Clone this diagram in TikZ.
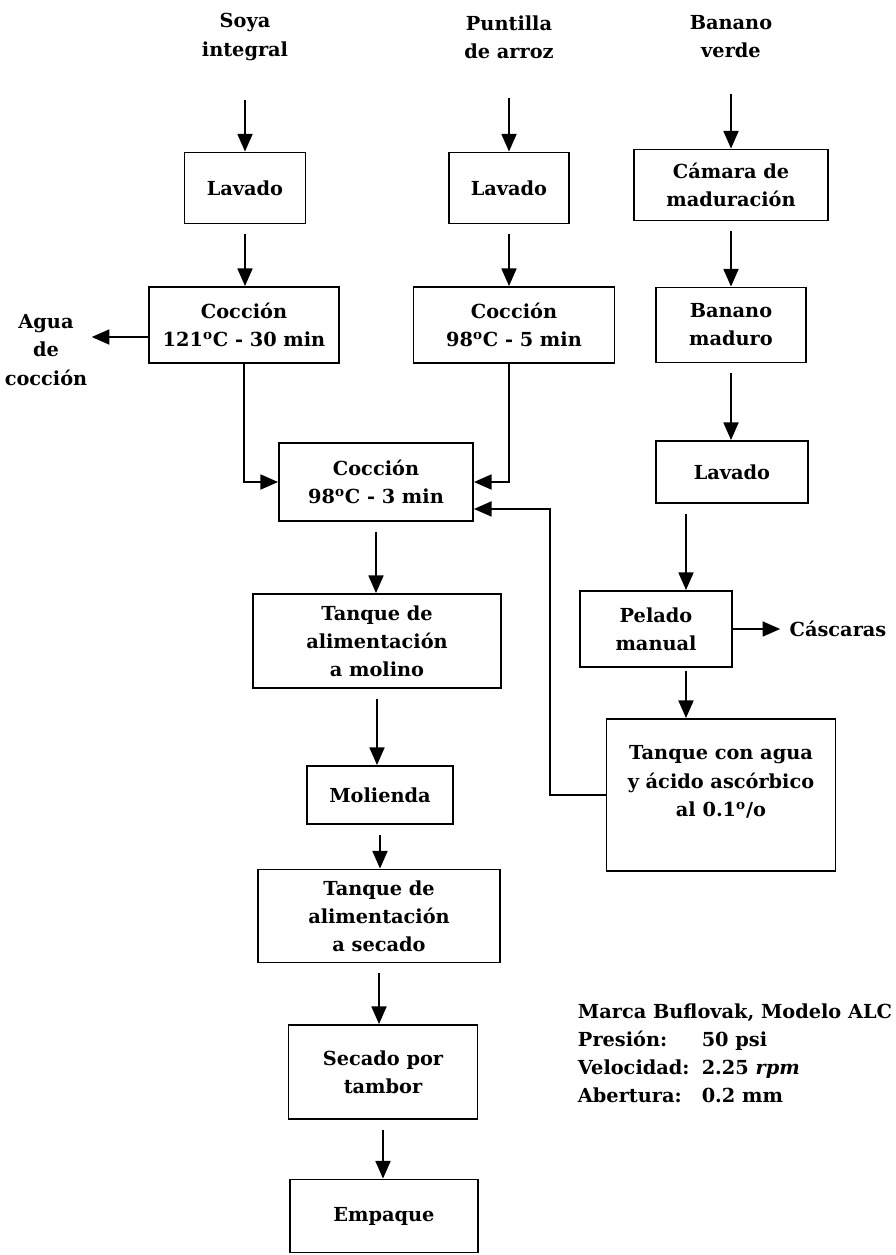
\documentclass[tikz,border=0pt]{standalone}
\usepackage{fontspec}
\setmainfont{DejaVu Serif}
\usepackage{tikz}
\usetikzlibrary{arrows.meta,positioning}

\begin{document}
\begin{tikzpicture}[->, >={Triangle[length=10pt,width=8.5pt]}, line width=1.1pt, x=0.02cm, y=-0.02cm,
    font=\bfseries\fontsize{11}{16}\selectfont]

\tikzstyle{proc}=[
    rectangle,
    draw=black,
    line width=1.1pt,
    align=center,
    inner sep=2pt
]
\tikzstyle{feed}=[align=center, inner sep=2pt]
\tikzstyle{gap}=[shorten <=0.2cm]

\useasboundingbox (0,0) rectangle (896,1255);

% materias primas
\node[feed] (Soya) at (245,37) {Soya\\integral};
\node[feed] (Punt) at (509,37) {Puntilla\\de arroz};
\node[feed] (Ban) at (731,37) {Banano\\verde};

% soya
\node[proc, minimum width=2.42cm, minimum height=1.42cm] (Lav_1) at (245,188) {Lavado};
\node[proc, minimum width=3.8cm, minimum height=1.52cm] (Coc_1) at (244,325) {Cocci\'on\\121\textsuperscript{o}C - 30 min};
\node[feed] (Agua) at (46,350) {Agua\\de\\cocci\'on};

% arroz
\node[proc, minimum width=2.4cm, minimum height=1.42cm] (Lav_2) at (509,188) {Lavado};
\node[proc, minimum width=4.02cm, minimum height=1.52cm] (Coc_2) at (514,325) {Cocci\'on\\98\textsuperscript{o}C - 5 min};

% banano
\node[proc, minimum width=3.88cm, minimum height=1.42cm] (Cam) at (731,185) {C\'amara de\\maduraci\'on};
\node[proc, minimum width=3.0cm, minimum height=1.5cm] (Mad) at (731,325) {Banano\\maduro};
\node[proc, minimum width=3.04cm, minimum height=1.24cm] (Lav_3) at (732,472) {Lavado};
\node[proc, minimum width=3.04cm, minimum height=1.52cm] (Pel) at (656,629) {Pelado\\manual};
\node[feed] (Casc) at (838,629) {C\'ascaras};
\node[proc, minimum width=4.58cm, minimum height=3.04cm] (Tanq) at (721,795) {Tanque con agua\\y \'acido asc\'orbico\\al 0.1\textsuperscript{o}/o\\[0pt]};
\coordinate (Xb) at (686,0);
\coordinate (Ret) at (550,795);

% proceso comun
\node[proc, minimum width=3.88cm, minimum height=1.56cm] (Coc_3) at (376,482) {Cocci\'on\\98\textsuperscript{o}C - 3 min};
\node[proc, minimum width=4.96cm, minimum height=1.88cm] (T_mol) at (377,641) {Tanque de\\alimentaci\'on\\a molino};
\node[proc, minimum width=2.92cm, minimum height=1.16cm] (Mol) at (380,795) {Molienda};
\node[proc, minimum width=4.84cm, minimum height=1.86cm] (T_sec) at (379,916) {Tanque de\\alimentaci\'on\\a secado};
\node[proc, minimum width=3.78cm, minimum height=1.88cm] (Sec) at (383,1072) {Secado por\\tambor};
\node[proc, minimum width=3.76cm, minimum height=1.46cm] (Emp) at (384,1216) {Empaque};

\node[feed, anchor=north west, inner sep=0pt] (Datos) at (577,998) {%
\begin{tabular}{@{}l@{\hspace{7pt}}l@{}}
\multicolumn{2}{@{}l@{}}{Marca Buflovak, Modelo ALC}\\
Presi\'on: & 50 psi\\
Velocidad: & 2.25 \textit{rpm}\\
Abertura: & 0.2 mm
\end{tabular}};

\path
(Soya) edge[shorten <=0.7cm] (Soya |- Lav_1.north)
(Punt) edge[shorten <=0.7cm] (Punt |- Lav_2.north)
(Ban) edge[shorten <=0.62cm] (Ban |- Cam.north)
(Lav_1) edge[gap] (Lav_1 |- Coc_1.north)
(Lav_2) edge[gap] (Lav_2 |- Coc_2.north)
(Cam) edge[gap] (Cam |- Mad.north)
(Mad) edge[gap] (Mad |- Lav_3.north)
(Lav_3.south -| Xb) edge[gap] (Pel.north -| Xb)
(Pel.south -| Xb) edge[shorten <=0.06cm] (Tanq.north -| Xb)
(Pel) edge[shorten >=0.1cm] (Casc)
(Coc_3) edge[gap] (Coc_3 |- T_mol.north)
(T_mol) edge[gap] (T_mol |- Mol.north)
(Mol) edge[gap] (Mol |- T_sec.north)
(T_sec) edge[gap] (T_sec |- Sec.north)
(Sec) edge[gap] (Sec |- Emp.north);

\draw ([yshift=-0.24cm]Coc_1.west) -- ([yshift=-0.24cm]Coc_1.west -| Agua.east);
\draw (Coc_1.south) |- (Coc_3.west);
\draw (Coc_2.south -| Lav_2) |- (Coc_3.east);
\draw (Tanq.west) -- (Ret) |- ([yshift=0.26cm]Coc_3.south east);

\end{tikzpicture}
\end{document}
